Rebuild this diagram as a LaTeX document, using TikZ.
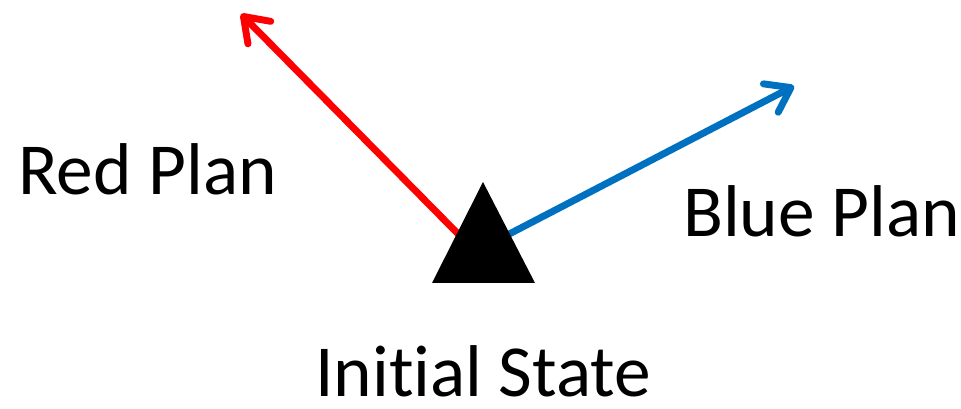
\documentclass[tikz,border=0pt]{standalone}
\usepackage{fontspec}
\setmainfont{Carlito}[Ligatures={NoCommon}]
\usetikzlibrary{arrows.meta}
\definecolor{planblue}{RGB}{0,112,192}

\begin{document}
\begin{tikzpicture}[x=0.75pt,y=-0.75pt,>={Straight Barb[length=17pt,width=24pt,round]}]
  \tikzset{plan/.style={line width=5.2pt,->},
    lbl/.style={anchor=base west,inner sep=0pt,text depth=0pt,font=\fontsize{55}{60}\selectfont}}
  \useasboundingbox (0,0) rectangle (961,409);
  \coordinate (apex) at (483,182);
  \coordinate (BL) at (432,283);
  \coordinate (BR) at (535,283);
  \coordinate (R0) at (470,246);
  \coordinate (R1) at (241,14);
  \coordinate (B0) at (490,244);
  \coordinate (B1) at (794,86);
  \draw[plan,red] (R0)--(R1);
  \draw[plan,planblue] (B0)--(B1);
  \fill (apex)--(BL)--(BR)--cycle;
  \node[lbl] (red) at (18,195) {Red Plan};
  \node[lbl] (blue) at (683,237) {Blue Plan};
  \node[lbl] (init) at (315,397) {Initial State};
\end{tikzpicture}
\end{document}
